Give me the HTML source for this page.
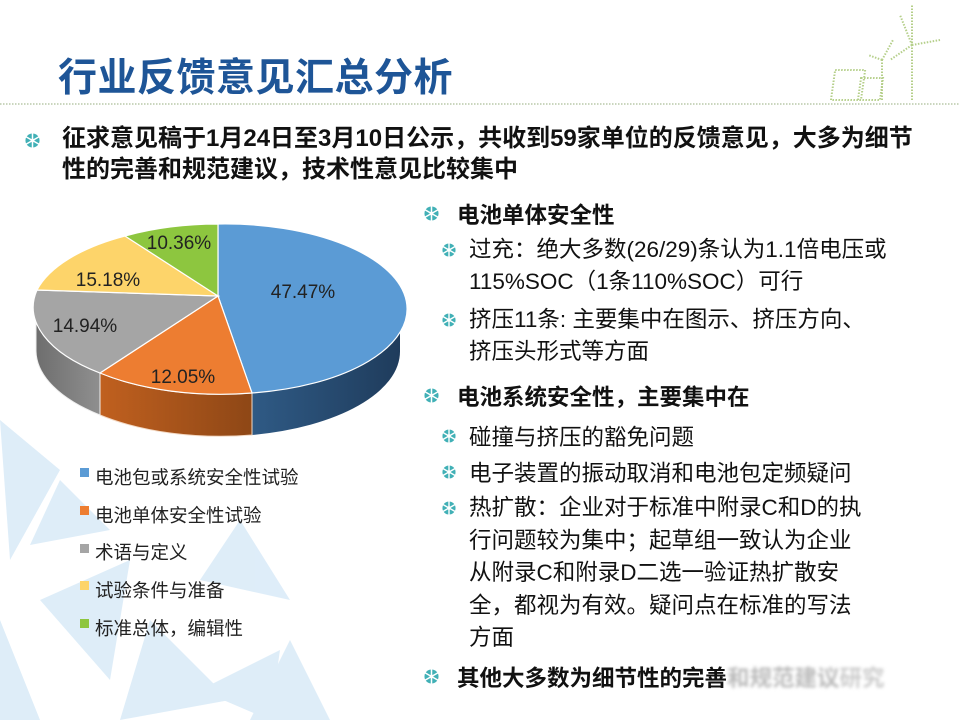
<!DOCTYPE html>
<html><head><meta charset="utf-8"><style>
body{margin:0;width:960px;height:720px;background:#fff;position:relative;overflow:hidden;font-family:"Liberation Sans","Noto Sans CJK SC",sans-serif;}
.t{position:absolute;white-space:nowrap;color:#111;}
.b{font-weight:bold;}
.lg{position:absolute;width:9px;height:9px;}
</style></head><body>
<svg width="960" height="720" style="position:absolute;left:0;top:0">
<defs>
<symbol id="ic" viewBox="0 0 16 16"><circle cx="8" cy="8" r="7.5" fill="#41b0b6"/><g stroke="#fff" stroke-width="1.6"><line x1="8" y1="0" x2="8" y2="16"/><line x1="1" y1="4" x2="15" y2="12"/><line x1="1" y1="12" x2="15" y2="4"/></g><circle cx="8" cy="8" r="2" fill="#fff"/></symbol>
<linearGradient id="gb" x1="0" x2="1"><stop offset="0" stop-color="#2f5a85"/><stop offset="1" stop-color="#1f3c5c"/></linearGradient>
<linearGradient id="go" x1="0" x2="1"><stop offset="0" stop-color="#c0601f"/><stop offset="1" stop-color="#8e4716"/></linearGradient>
<linearGradient id="gg" x1="0" x2="1"><stop offset="0" stop-color="#6e6e6e"/><stop offset="1" stop-color="#8f8f8f"/></linearGradient>
</defs>
<g fill="#d6e9f7" opacity="0.8">
<polygon points="0,420 60,470 10,560"/><polygon points="40,600 130,560 110,680"/><polygon points="150,620 230,700 120,720"/>
<polygon points="0,620 40,720 0,720"/><polygon points="240,520 290,600 200,580"/><polygon points="200,690 280,650 270,720"/>
<polygon points="60,480 110,530 30,545"/><polygon points="290,640 330,720 250,720"/>
</g>
<line x1="0" y1="104" x2="960" y2="104" stroke="#b8c8a8" stroke-width="1.5" stroke-dasharray="1.5,1.5"/>
<g stroke="#b5cf8a" stroke-width="2" stroke-dasharray="1.5,1.5" fill="none">
<line x1="912" y1="100" x2="912" y2="5"/><line x1="912" y1="45" x2="890" y2="60"/><line x1="912" y1="45" x2="940" y2="40"/><line x1="912" y1="45" x2="900" y2="15"/>
<line x1="882" y1="100" x2="882" y2="60"/><line x1="882" y1="60" x2="893" y2="40"/><line x1="882" y1="60" x2="868" y2="55"/>
<rect x="835" y="70" width="30" height="30" transform="skewX(-8) translate(10,0)"/><rect x="860" y="78" width="22" height="22" transform="skewX(-8) translate(12,0)"/>
</g>
<path d="M400,309 A182 85 0 0 1 252,393 L252,435 A182 85 0 0 0 400,351 Z" fill="url(#gb)"/>
<path d="M252,393 A182 85 0 0 1 100,373 L100,415 A182 85 0 0 0 252,435 Z" fill="url(#go)" stroke="#f3d9c4" stroke-width="1"/>
<path d="M100,373 A182 85 0 0 1 36,309 L36,351 A182 85 0 0 0 100,415 Z" fill="url(#gg)" stroke="#eee" stroke-width="1"/>
<g stroke="#fff" stroke-width="1.2">
<path d="M218,296 L218,224 A182 85 0 0 1 252,393 Z" fill="#5b9bd5"/>
<path d="M218,296 L252,393 A182 85 0 0 1 100,373 Z" fill="#ed7d31"/>
<path d="M218,296 L100,373 A182 85 0 0 1 37,290 Z" fill="#a5a5a5"/>
<path d="M218,296 L37,290 A182 85 0 0 1 125,236 Z" fill="#fdd46a"/>
<path d="M218,296 L125,236 A182 85 0 0 1 218,224 Z" fill="#8dc63f"/>
</g>
<g font-size="19" fill="#222" font-family="Liberation Sans, sans-serif" text-anchor="middle">
<text x="303" y="298">47.47%</text><text x="183" y="383">12.05%</text><text x="85" y="332">14.94%</text><text x="108" y="286">15.18%</text><text x="179" y="249">10.36%</text>
</g>
<use href="#ic" x="25" y="133" width="15" height="15"/>
<use href="#ic" x="424" y="206" width="15" height="15"/>
<use href="#ic" x="442" y="243" width="14" height="14"/>
<use href="#ic" x="442" y="313" width="14" height="14"/>
<use href="#ic" x="424" y="388" width="15" height="15"/>
<use href="#ic" x="442" y="429" width="14" height="14"/>
<use href="#ic" x="442" y="465" width="14" height="14"/>
<use href="#ic" x="442" y="501" width="14" height="14"/>
<use href="#ic" x="424" y="669" width="15" height="15"/>
</svg>
<div class="t b" style="left:58px;top:47px;font-size:39px;color:#1e5597;letter-spacing:0.5px">行业反馈意见汇总分析</div>
<div class="t b" style="left:62px;top:123px;font-size:24px;line-height:31px">征求意见稿于1月24日至3月10日公示，共收到59家单位的反馈意见，大多为细节<br>性的完善和规范建议，技术性意见比较集中</div>
<div class="t b" style="left:457px;top:198px;font-size:22.5px">电池单体安全性</div>
<div class="t" style="left:469px;top:234px;font-size:22.5px;line-height:32px">过充：绝大多数(26/29)条认为1.1倍电压或<br>115%SOC（1条110%SOC）可行</div>
<div class="t" style="left:469px;top:304px;font-size:22.5px;line-height:32px">挤压11条: 主要集中在图示、挤压方向、<br>挤压头形式等方面</div>
<div class="t b" style="left:457px;top:380px;font-size:22.5px">电池系统安全性，主要集中在</div>
<div class="t" style="left:469px;top:420px;font-size:22.5px">碰撞与挤压的豁免问题</div>
<div class="t" style="left:469px;top:456px;font-size:22.5px">电子装置的振动取消和电池包定频疑问</div>
<div class="t" style="left:469px;top:492px;font-size:22.5px;line-height:32.5px">热扩散：企业对于标准中附录C和D的执<br>行问题较为集中；起草组一致认为企业<br>从附录C和附录D二选一验证热扩散安<br>全，都视为有效。疑问点在标准的写法<br>方面</div>
<div class="t b" style="left:457px;top:661px;font-size:22.5px">其他大多数为细节性的完善<span style="color:#bbb;filter:blur(1.5px)">和规范建议</span><span style="color:#ccc;filter:blur(1.5px)">研究</span></div>
<div class="lg" style="left:80px;top:468px;background:#5b9bd5"></div>
<div class="lg" style="left:80px;top:506px;background:#ed7d31"></div>
<div class="lg" style="left:80px;top:544px;background:#a5a5a5"></div>
<div class="lg" style="left:80px;top:581px;background:#fdd46a"></div>
<div class="lg" style="left:80px;top:619px;background:#8dc63f"></div>
<div class="t" style="left:95px;top:459px;font-size:18.5px;line-height:37.7px;color:#222">电池包或系统安全性试验<br>电池单体安全性试验<br>术语与定义<br>试验条件与准备<br>标准总体，编辑性</div>
</body></html>
